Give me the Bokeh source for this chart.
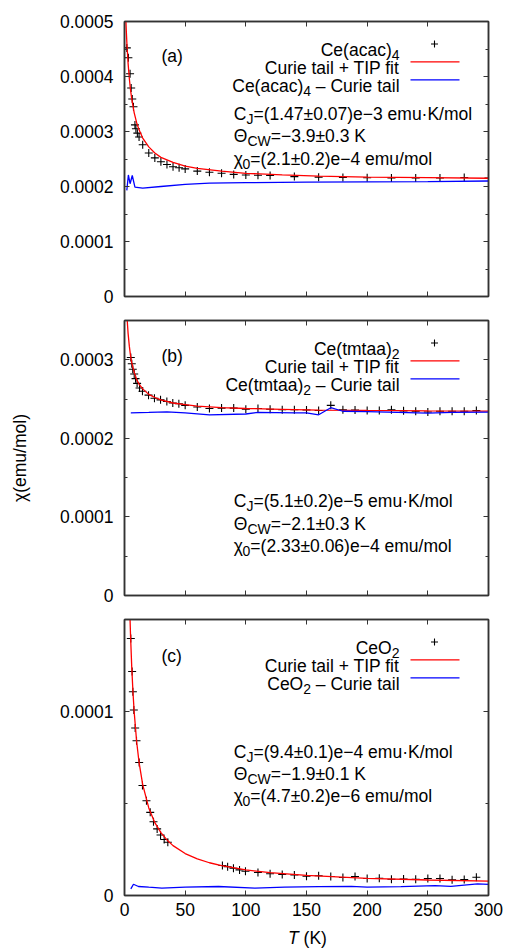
import numpy as np
from bokeh.plotting import figure
from bokeh.models import LinearAxis, FixedTicker, CustomJSTickFormatter, Label, Range1d, Div
from bokeh.layouts import column
from bokeh.embed import file_html
from bokeh.resources import INLINE

# ---------------- data ----------------
X_TICKS = [0, 50, 100, 150, 200, 250, 300]

# Panel (a): Ce(acac)4, chi in units of 1e-4 emu/mol
T_a = [1.9, 3.2, 4.6, 5.5, 6.4, 7.4, 8.6, 9.4, 10.6, 12.0, 15.0, 20.0, 25.0, 30.0, 35.0, 40.0,
       45.0, 50.0, 60.0, 70.0, 80.0, 90.0, 100.0, 110.0, 120.0, 140.0, 160.0, 180.0, 200.0,
       220.0, 240.0, 260.0, 280.0, 300.0]
chi_a = [4.52, 4.34, 4.05, 3.79, 3.59, 3.45, 3.12, 3.05, 2.97, 2.90, 2.76, 2.61, 2.52, 2.45,
         2.40, 2.36, 2.34, 2.32, 2.28, 2.26, 2.24, 2.22, 2.21, 2.205, 2.20, 2.18, 2.17, 2.165,
         2.16, 2.155, 2.155, 2.155, 2.165, 2.155]
Tfit_a = [1.1, 1.5, 2, 3, 4, 5, 6, 8, 10, 12, 15, 20, 25, 30, 40, 50, 60, 80, 100, 130, 160,
          200, 250, 300]
fit_a = [5.04, 4.82, 4.59, 4.23, 3.96, 3.75, 3.59, 3.34, 3.16, 3.03, 2.88, 2.72, 2.61, 2.53,
         2.44, 2.37, 2.33, 2.28, 2.24, 2.21, 2.19, 2.17, 2.16, 2.15]
Tsub_a = [1.9, 3.2, 4.6, 6.4, 8.6, 15, 30, 50, 70, 100, 150, 200, 250, 300]
sub_a = [1.93, 2.21, 2.05, 2.20, 1.99, 1.97, 2.00, 2.04, 2.06, 2.07, 2.08, 2.085, 2.09, 2.10]

# Panel (b): Ce(tmtaa)2, chi in units of 1e-4 emu/mol
T_b = [5.2, 6.0, 6.8, 8.0, 9.1, 10.4, 12.4, 14.8, 19.8, 24.7, 29.7, 34.9, 39.8, 44.8, 50, 60,
       70, 80, 90, 100, 110, 120, 130, 140, 150, 160, 170, 180, 190, 200, 210, 220, 230, 240,
       250, 260, 270, 280, 290]
chi_b = [3.03, 2.95, 2.88, 2.82, 2.76, 2.70, 2.64, 2.60, 2.55, 2.51, 2.49, 2.47, 2.45, 2.44,
         2.42, 2.40, 2.38, 2.385, 2.385, 2.37, 2.38, 2.37, 2.365, 2.365, 2.36, 2.355, 2.42,
         2.365, 2.36, 2.355, 2.355, 2.365, 2.35, 2.345, 2.335, 2.345, 2.345, 2.345, 2.355]
Tfit_b = [2.2, 2.5, 3, 4, 5, 6, 8, 10, 12, 15, 20, 25, 30, 40, 50, 60, 80, 100, 130, 160, 200,
          250, 300]
fit_b = [3.52, 3.44, 3.33, 3.17, 3.05, 2.96, 2.84, 2.75, 2.69, 2.63, 2.56, 2.52, 2.49, 2.45,
         2.43, 2.41, 2.39, 2.38, 2.37, 2.36, 2.355, 2.35, 2.347]
Tsub_b = [5.2, 20, 35, 50, 70, 100, 110, 140, 150, 160, 170, 180, 200, 250, 270, 300]
sub_b = [2.325, 2.33, 2.337, 2.325, 2.30, 2.31, 2.33, 2.325, 2.325, 2.30, 2.39, 2.345, 2.34,
         2.32, 2.33, 2.335]

# Panel (c): CeO2, chi in units of 1e-5 emu/mol
T_c = [5.2, 6.3, 6.9, 7.7, 8.8, 9.9, 12.1, 14.8, 18.1, 21.2, 23.9, 26.9, 29.7, 32.7, 35.7,
       80.7, 85, 89.8, 94.8, 99.7, 110, 120, 130, 140, 150, 160, 170, 180, 190, 200, 210, 220,
       230, 240, 250, 260, 270, 280, 290]
chi_c = [13.97, 12.17, 11.07, 10.08, 9.10, 8.41, 7.23, 5.98, 5.15, 4.52, 4.01, 3.62, 3.29,
         3.04, 2.89, 1.63, 1.56, 1.48, 1.39, 1.32, 1.25, 1.18, 1.14, 1.12, 1.05, 1.07, 1.03,
         0.98, 1.03, 0.92, 0.94, 0.88, 0.90, 0.88, 0.92, 0.92, 0.85, 0.87, 0.99]
Tfit_c = [4.4, 5, 6, 7, 8, 10, 12, 15, 20, 25, 30, 35, 40, 50, 60, 70, 80, 100, 120, 150, 200,
          250, 300]
fit_c = [15.39, 14.09, 12.37, 11.03, 9.96, 8.37, 7.23, 6.03, 4.76, 3.96, 3.42, 3.02, 2.71,
         2.28, 1.99, 1.78, 1.62, 1.39, 1.24, 1.09, 0.936, 0.843, 0.781]
Tsub_c = [5.2, 7.4, 11.5, 20, 30.8, 50, 77.5, 107.5, 132, 160, 187, 200, 228, 256, 269, 291, 300]
sub_c = [0.36, 0.61, 0.49, 0.45, 0.40, 0.45, 0.49, 0.40, 0.45, 0.48, 0.50, 0.45, 0.48, 0.54,
         0.50, 0.63, 0.60]

# ---------------- style ----------------
FONT = "Liberation Sans"
FS = 17.5
SUB = 14.0
FRAME = "#333333"
RED = "#ff0000"
BLUE = "#0000ff"
W_FIG = 506
LB = 124
FW = 364
RB = W_FIG - LB - FW

ADV = {' ': 278, '(': 333, ')': 333, '+': 584, '–': 556, '−': 584, '=': 584, '.': 278,
       '/': 278, '±': 549, '·': 278, 'C': 722, 'e': 556, 'a': 556, 'c': 500, 'O': 778,
       't': 278, 'm': 833, 'u': 556, 'r': 333, 'i': 222, 'l': 222, 'T': 611, 'I': 278,
       'P': 667, 'f': 278, 'K': 667, 'W': 944, 'J': 500, 'o': 556, 'Θ': 778, 'χ': 500}


def textw(s, size):
    return sum(ADV.get(ch, 556) for ch in s) / 1000.0 * size


def ref_T(px):
    # reference page x pixel -> temperature
    return (px - 124.0) / 364.0 * 300.0


def make_panel(ymax, h_frame, btop, bbot, yticks, yminor, xlabels, ylabel=None):
    p = figure(width=W_FIG, height=btop + h_frame + bbot, x_range=Range1d(0, 300),
               y_range=Range1d(0, ymax), output_backend="svg", toolbar_location=None,
               min_border_left=LB, min_border_right=RB, min_border_top=btop,
               min_border_bottom=bbot)
    p.grid.visible = False
    p.outline_line_color = FRAME
    p.outline_line_width = 1.5
    p.background_fill_color = "white"
    p.border_fill_color = "white"
    xt = FixedTicker(ticks=X_TICKS)
    yt = FixedTicker(ticks=yticks, minor_ticks=yminor)
    bx = p.xaxis[0]
    ly = p.yaxis[0]
    bx.ticker = xt
    ly.ticker = yt
    ly.formatter = CustomJSTickFormatter(code="return tick == 0 ? '0' : tick.toFixed(4);")
    top = LinearAxis(ticker=xt)
    right = LinearAxis(ticker=yt)
    p.add_layout(top, "above")
    p.add_layout(right, "right")
    for ax in [bx, ly, top, right]:
        ax.axis_line_color = FRAME
        ax.axis_line_width = 1.5
        ax.major_tick_in = 5
        ax.major_tick_out = 0
        ax.major_tick_line_color = FRAME
        ax.major_tick_line_width = 1
        ax.minor_tick_in = 3
        ax.minor_tick_out = 0
        ax.minor_tick_line_color = FRAME
        ax.minor_tick_line_width = 1
        ax.major_label_text_font = FONT
        ax.major_label_text_color = "black"
        ax.major_label_text_font_size = f"{FS}px"
    for ax in [bx, top]:
        ax.minor_tick_line_color = None
    ly.major_label_standoff = 11
    hidden = [top, right]
    if xlabels:
        bx.major_label_standoff = 7
    else:
        hidden.append(bx)
    for ax in hidden:
        ax.major_label_text_font_size = "0px"
        ax.major_label_text_color = None
        ax.major_label_standoff = 0
    if ylabel:
        ly.axis_label = ylabel
        ly.axis_label_text_font = FONT
        ly.axis_label_text_font_size = f"{FS}px"
        ly.axis_label_text_font_style = "normal"
        ly.axis_label_text_color = "black"
        ly.axis_label_standoff = 27
    return p


def Yp(ymax, h, py_rel):
    return ymax * (1.0 - py_rel / h)


def rich(p, ymax, h, x_T, center_rel, parts, align="left"):
    # parts: (text, is_sub, style)
    widths = [textw(t, SUB if s else FS) for t, s, st in parts]
    total = sum(widths)
    cur = x_T if align == "left" else x_T - total * 300.0 / FW
    base_rel = center_rel + 0.36 * FS
    for (t, s, st), w in zip(parts, widths):
        size = SUB if s else FS
        stripped = t.lstrip(" ")
        lead = textw(t[:len(t) - len(stripped)], size) * 300.0 / FW
        yrel = base_rel + (5.0 if s else 0.0)
        p.add_layout(Label(x=cur + lead, y=Yp(ymax, h, yrel), text=stripped, text_font=FONT,
                           text_font_size=f"{size}px", text_font_style=st,
                           text_baseline="alphabetic", text_align="left",
                           text_color="black"))
        cur += w * 300.0 / FW


def decorate(p, ymax, h, tag, name, lines, ann_rows, tag_rel):
    # panel tag
    rich(p, ymax, h, ref_T(161), tag_rel, [(tag, False, "normal")])
    # legend
    xr = ref_T(399)
    rows = [22.5, 40.3, 58.3]
    rich(p, ymax, h, xr, rows[0], [(name[0], False, "normal"), (name[1], True, "normal")],
         align="right")
    rich(p, ymax, h, xr, rows[1], [("Curie tail + TIP fit", False, "normal")], align="right")
    rich(p, ymax, h, xr, rows[2], [(name[0], False, "normal"), (name[1], True, "normal"),
                                   (" – Curie tail", False, "normal")], align="right")
    p.scatter([ref_T(434)], [Yp(ymax, h, rows[0])], marker="cross", size=7,
              line_color="black", line_width=1.1)
    p.line([ref_T(410), ref_T(459)], [Yp(ymax, h, rows[1])] * 2, line_color=RED,
           line_width=1.3)
    p.line([ref_T(410), ref_T(459)], [Yp(ymax, h, rows[2])] * 2, line_color=BLUE,
           line_width=1.3)
    # fit parameters
    xl = ref_T(233.3)
    rich(p, ymax, h, xl, ann_rows[0], [("C", False, "normal"), ("J", True, "normal"),
                                        (lines[0], False, "normal")])
    rich(p, ymax, h, xl, ann_rows[1], [("Θ", False, "normal"), ("CW", True, "normal"),
                                        (lines[1], False, "normal")])
    rich(p, ymax, h, xl, ann_rows[2], [("χ", False, "normal"), ("0", True, "normal"),
                                        (lines[2], False, "normal")])


def draw(p, T, chi, Tf, fit, Ts, sub, unit):
    p.scatter(T, np.array(chi) * unit, marker="cross", size=8, line_color="black",
              line_width=1.1)
    p.line(Tf, np.array(fit) * unit, line_color=RED, line_width=1.3)
    p.line(Ts, np.array(sub) * unit, line_color=BLUE, line_width=1.3)


# ---------------- panel (a) ----------------
YA, HA = 0.0005, 275
p1 = make_panel(YA, HA, 21, 12, [0, 1e-4, 2e-4, 3e-4, 4e-4, 5e-4],
                [5e-5, 1.5e-4, 2.5e-4, 3.5e-4, 4.5e-4], False)
draw(p1, T_a, chi_a, Tfit_a, fit_a, Tsub_a, sub_a, 1e-4)
decorate(p1, YA, HA, "(a)", ("Ce(acac)", "4"),
         ["=(1.47±0.07)e−3 emu·K/mol", "=−3.9±0.3 K", "=(2.1±0.2)e−4 emu/mol"],
         [86.3, 108.3, 130.7], 28.3)

# ---------------- panel (b) ----------------
YB, HB = 0.00035, 275
p2 = make_panel(YB, HB, 12, 12, [0, 1e-4, 2e-4, 3e-4], [5e-5, 1.5e-4, 2.5e-4, 3.5e-4], False,
                ylabel="χ(emu/mol)")
draw(p2, T_b, chi_b, Tfit_b, fit_b, Tsub_b, sub_b, 1e-4)
decorate(p2, YB, HB, "(b)", ("Ce(tmtaa)", "2"),
         ["=(5.1±0.2)e−5 emu·K/mol", "=−2.1±0.3 K", "=(2.33±0.06)e−4 emu/mol"],
         [174.3, 196.7, 219.3], 29.3)

# ---------------- panel (c) ----------------
YC, HC = 0.00015, 276
p3 = make_panel(YC, HC, 12, 34, [0, 1e-4], [5e-5, 1.5e-4], True)
draw(p3, T_c, chi_c, Tfit_c, fit_c, Tsub_c, sub_c, 1e-5)
decorate(p3, YC, HC, "(c)", ("CeO", "2"),
         ["=(9.4±0.1)e−4 emu·K/mol", "=−1.9±0.1 K", "=(4.7±0.2)e−6 emu/mol"],
         [126.0, 147.7, 170.0], 30.0)

# x-axis title "T (K)" with italic T, below panel (c)
xtitle = Div(text="<i>T</i> (K)", width=80, height=18, margin=(0, 0, 0, 288),
             styles={"font-family": FONT, "font-size": f"{FS}px", "color": "black",
                     "line-height": "18px", "white-space": "nowrap"})

layout = column(p1, p2, p3, xtitle, spacing=0)
open("out.html", "w").write(file_html(layout, INLINE, title="chi vs T"))
